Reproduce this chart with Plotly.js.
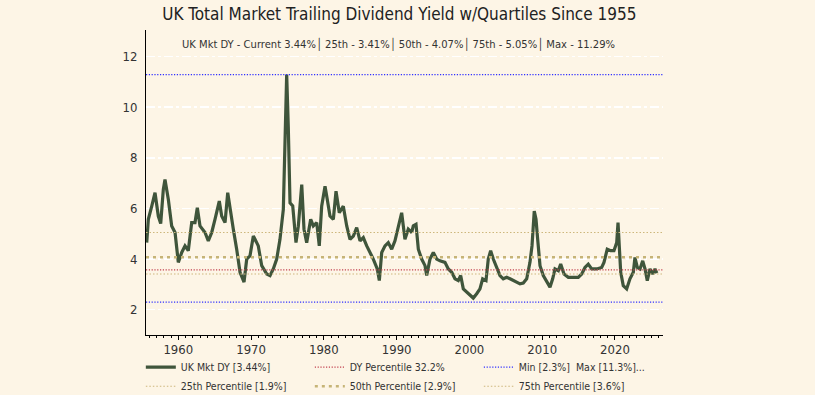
<!DOCTYPE html>
<html>
<head>
<meta charset="utf-8">
<script src="https://cdn.plot.ly/plotly-3.0.1.min.js"></script>
<style>html,body{margin:0;padding:0;background:#fdf5e6;}#chart{width:815px;height:395px;}</style>
</head>
<body>
<div id="chart"></div>
<script>
// ---- data ----
const years = [1955.66,1955.88,1956.35,1956.80,1957.25,1957.58,1957.94,1958.17,1958.63,1959.09,1959.55,
1960.00,1960.47,1960.92,1961.37,1961.84,1962.29,1962.61,1962.98,1963.67,1964.12,1964.59,1965.04,1965.63,1965.96,
1966.42,1966.79,1967.10,1967.56,1968.02,1968.48,1969.03,1969.40,1969.85,1970.31,1970.54,1970.99,1971.46,1972.15,
1972.60,1973.05,1973.52,1973.97,1974.43,1974.76,1974.89,1975.11,1975.35,1975.72,1976.17,1976.49,1976.96,1977.27,
1977.64,1978.19,1978.55,1979.02,1979.37,1979.70,1980.16,1980.47,1980.84,1981.30,1981.67,1982.12,1982.67,1983.14,
1983.59,1984.05,1984.51,1984.97,1985.42,1985.89,1986.34,1986.79,1987.34,1987.62,1987.95,1988.40,1988.85,1989.32,
1989.77,1990.23,1990.69,1990.92,1991.14,1991.60,1992.07,1992.29,1992.66,1992.98,1993.44,1993.90,1994.13,1994.58,
1995.04,1995.50,1995.96,1996.64,1997.10,1997.57,1998.02,1998.47,1998.80,1999.16,1999.63,2000.08,2000.53,2001.00,
2001.45,2001.82,2002.28,2002.59,2002.92,2003.28,2003.75,2004.20,2004.65,2005.12,2005.58,2006.03,2006.50,2006.95,
2007.40,2007.87,2008.32,2008.60,2008.91,2009.15,2009.38,2009.70,2010.15,2010.62,2011.07,2011.44,2011.76,2012.21,
2012.54,2013.00,2013.59,2014.27,2014.96,2015.43,2015.88,2016.33,2016.80,2017.49,2018.17,2018.49,2018.94,2019.41,
2019.86,2020.24,2020.42,2020.59,2020.79,2021.14,2021.61,2022.06,2022.52,2022.75,2023.07,2023.44,2023.81,2024.13,
2024.44,2024.81,2025.18,2025.50,2025.75];
const dy = [4.65,5.57,6.09,6.62,5.70,5.40,6.75,7.14,6.35,5.31,5.05,
3.87,4.26,4.52,4.33,5.44,5.44,6.03,5.31,5.05,4.72,5.05,5.57,6.29,5.70,
5.44,6.62,5.96,5.18,4.39,3.48,3.09,4.00,4.13,4.91,4.78,4.52,3.74,3.41,
3.35,3.61,4.00,4.78,5.96,9.23,11.29,9.23,6.22,6.10,4.65,5.30,6.94,5.18,
4.65,5.57,5.31,5.44,4.52,6.09,6.88,6.35,5.70,5.57,6.68,5.83,6.09,5.31,
4.78,4.91,5.24,4.72,4.85,4.52,4.26,4.00,3.61,3.15,4.26,4.52,4.65,4.39,
4.72,5.31,5.83,5.30,4.78,5.18,5.05,5.31,5.37,4.39,4.00,3.74,3.35,4.00,
4.26,4.00,3.93,3.87,3.61,3.48,3.22,3.15,3.35,2.82,2.69,2.56,2.46,2.63,
2.82,3.22,3.15,4.00,4.33,4.00,3.67,3.35,3.22,3.28,3.22,3.15,3.09,3.02,
3.05,3.22,3.87,4.52,5.90,5.57,4.78,3.74,3.35,3.09,2.89,3.22,3.61,3.54,
3.80,3.41,3.28,3.28,3.28,3.41,3.67,3.80,3.61,3.61,3.67,3.87,4.39,4.33,
4.33,4.65,5.44,4.52,3.48,2.95,2.82,3.22,3.48,4.06,3.67,3.61,3.93,3.61,
3.15,3.61,3.41,3.61,3.44];

const current = 3.44, p25 = 3.41, p50 = 4.07, p75 = 5.05, dyMax = 11.29, dyMin = 2.3, dyPctLine = 3.57;
const xRange = [1955.56, 2026.6];
const yRange = [1.0, 13.05];

const names = ['UK Mkt DY [3.44%]', 'DY Percentile 32.2%', 'Min [2.3%]  Max [11.3%]...',
               '25th Percentile [1.9%]', '50th Percentile [2.9%]', '75th Percentile [3.6%]'];
const subtitle = 'UK Mkt DY - Current 3.44%\u2502 25th - 3.41%\u2502 50th - 4.07%\u2502 75th - 5.05%\u2502 Max - 11.29%';
const title = 'UK Total Market Trailing Dividend Yield w/Quartiles Since 1955';

const FONT = '"DejaVu Sans Condensed", "DejaVu Sans", sans-serif';
const hline = (v) => ({x: [xRange[0], xRange[1]], y: [v, v]});

const traces = [
  {x: years, y: dy, name: names[0], mode: 'lines', line: {color: '#3f553b', width: 3.2}},
  Object.assign(hline(dyPctLine), {name: names[1], mode: 'lines', line: {color: '#c2404e', width: 1.2, dash: '1.2px,1.6px'}}),
  {x: [xRange[0], xRange[1], null, xRange[0], xRange[1]], y: [dyMax, dyMax, null, dyMin, dyMin],
   name: names[2], mode: 'lines', connectgaps: false, line: {color: '#2f2fff', width: 1.2, dash: '1.2px,1.6px'}},
  Object.assign(hline(p25), {name: names[3], mode: 'lines', line: {color: '#cdb77c', width: 1.1, dash: '1.5px,2px'}}),
  Object.assign(hline(p50), {name: names[4], mode: 'lines', line: {color: '#c6b477', width: 2.6, dash: '3px,4px'}}),
  Object.assign(hline(p75), {name: names[5], mode: 'lines', line: {color: '#cdb77c', width: 1.1, dash: '1.5px,2px'}})
];

const layout = {
  width: 815, height: 395,
  paper_bgcolor: '#fdf5e6', plot_bgcolor: '#fdf5e6',
  margin: {l: 146, r: 152, t: 30, b: 60, autoexpand: false},
  font: {family: FONT, color: '#333', size: 12},
  showlegend: true,
  title: {text: title, font: {family: FONT, size: 17, color: '#222'}, x: 0.49, xanchor: 'center', y: 0.965, yanchor: 'middle'},
  xaxis: {range: xRange, showgrid: false, zeroline: false, showline: true, linecolor: '#000', linewidth: 1,
          tick0: 1960, dtick: 10, ticks: 'outside', ticklen: 4, tickcolor: '#000', ticklabelstandoff: -2,
          minor: {dtick: 1, ticks: 'outside', ticklen: 2, tickcolor: '#000'},
          tickfont: {family: FONT, size: 13, color: '#333'}},
  yaxis: {range: yRange, tickvals: [2, 4, 6, 8, 10, 12], showgrid: true, gridcolor: '#ffffff', gridwidth: 1.5,
          griddash: 'dashdot', zeroline: false, showline: true, linecolor: '#000', linewidth: 1, ticks: '',
          ticklabelstandoff: 5, tickfont: {family: FONT, size: 13, color: '#333'}},
  legend: {orientation: 'h', x: -0.01, xanchor: 'left', y: -0.058, yanchor: 'top', entrywidth: 124,
           entrywidthmode: 'pixels', bgcolor: 'rgba(0,0,0,0)', font: {family: FONT, size: 10.5, color: '#333'},
           itemwidth: 30, tracegroupgap: 0},
  annotations: [{text: subtitle, xref: 'paper', yref: 'paper', x: 0.488, y: 1.0, yshift: -14, xanchor: 'center', yanchor: 'middle',
                 showarrow: false, font: {family: FONT, size: 11.1, color: '#333'}}]
};

Plotly.newPlot('chart', traces, layout, {displayModeBar: false, staticPlot: true});
</script>
</body>
</html>
